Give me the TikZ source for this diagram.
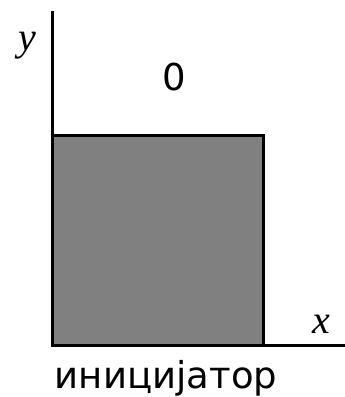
\documentclass[tikz,border=0pt]{standalone}
\usepackage{fontspec}
\setmainfont{DejaVu Sans}
\newfontfamily\varfont{Liberation Serif}
\usetikzlibrary{positioning}

\begin{document}
\begin{tikzpicture}[
  x=1pt, y=-1pt,
  axis/.style={line width=3pt, line cap=rect},
  block/.style={draw, line width=3pt, fill=black!50},
  var/.style={font=\varfont\itshape\fontsize{40}{40}\selectfont, inner sep=0pt},
  lbl/.style={font=\fontsize{37}{37}\selectfont, inner sep=0pt}
]
  \useasboundingbox (0,0) rectangle (345,397);
  \coordinate (O) at (52,345);
  \coordinate (ytop) at (52,12);
  \coordinate (xend) at (345,345);

  \draw[block] (O) rectangle (263,135);
  \draw[axis] (ytop) -- (O) -- (xend);

  \node[var] (ylab) at (27,46) {y};
  \node[var] (xlab) at (321,324) {x};
  \node[lbl] (zero) at (174,77) {0};
  \node[lbl] (init) at (166,378) {иницијатор};
\end{tikzpicture}
\end{document}
